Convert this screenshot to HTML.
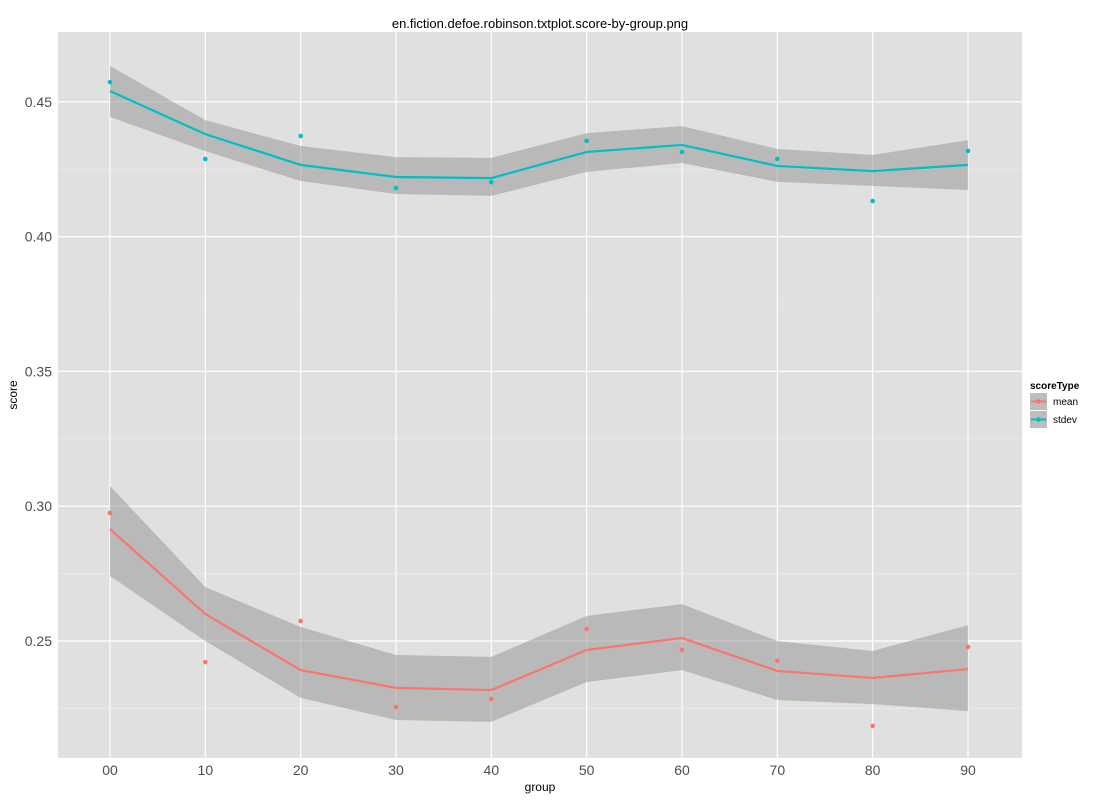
<!DOCTYPE html>
<html><head><meta charset="utf-8"><style>
body{margin:0;background:#fff;font-family:"Liberation Sans",sans-serif}
svg text{font-family:"Liberation Sans",sans-serif}
</style></head><body>
<svg id="c" width="1100" height="800"></svg>
<script>
const categories=["00","10","20","30","40","50","60","70","80","90"];
const stdevPoints=[0.4573,0.4288,0.4373,0.4180,0.4202,0.4355,0.4314,0.4288,0.4132,0.4318];
const stdevLine=[0.4540,0.4380,0.4266,0.4221,0.4217,0.4314,0.4340,0.4262,0.4243,0.4266];
const stdevUpper=[0.4633,0.4432,0.4336,0.4295,0.4292,0.4384,0.4410,0.4325,0.4303,0.4358];
const stdevLower=[0.4444,0.4317,0.4206,0.4158,0.4151,0.4240,0.4273,0.4203,0.4188,0.4173];
const meanPoints=[0.2975,0.2422,0.2574,0.2255,0.2285,0.2545,0.2467,0.2426,0.2185,0.2478];
const meanLine=[0.2915,0.2600,0.2392,0.2326,0.2318,0.2467,0.2511,0.2389,0.2363,0.2396];
const meanUpper=[0.3075,0.2700,0.2552,0.2448,0.2441,0.2593,0.2637,0.2500,0.2463,0.2559];
const meanLower=[0.2741,0.2500,0.2289,0.2207,0.2200,0.2348,0.2392,0.2281,0.2266,0.2240];
const yTicks=[0.25,0.30,0.35,0.40,0.45];
const yMinor=[0.225,0.275,0.325,0.375,0.425];

const NS="http://www.w3.org/2000/svg";
const svg=document.getElementById('c');
const L=58,R=1022,T=32,B=758;
const x=i=>110+i*(968-110)/9;
const y=v=>641-(v-0.25)*2696;
function mk(t,a,p){const e=document.createElementNS(NS,t);for(const k in a)e.setAttribute(k,a[k]);(p||svg).appendChild(e);return e;}

const title=mk('text',{x:540,y:28,'text-anchor':'middle','font-size':13,fill:'#000'});


title.textContent='en.fiction.defoe.robinson.txtplot.score-by-group.png';

const panel=mk('rect',{x:L,y:T,width:R-L,height:B-T,fill:'#e0e0e0'});


yMinor.forEach(v=>{const g=mk('line',{x1:L,x2:R,y1:y(v),y2:y(v),stroke:'#ececec','stroke-width':0.7});

});
yTicks.forEach(v=>{const g=mk('line',{x1:L,x2:R,y1:y(v),y2:y(v),stroke:'#fff','stroke-width':1.2});


const t=mk('text',{x:52,y:y(v)+5,'text-anchor':'end','font-size':14,fill:'#4d4d4d'});


t.textContent=v.toFixed(2);});
categories.forEach((c,i)=>{const g=mk('line',{x1:x(i),x2:x(i),y1:T,y2:B,stroke:'#fff','stroke-width':1.2});


const t=mk('text',{x:x(i),y:775,'text-anchor':'middle','font-size':14,fill:'#4d4d4d'});


t.textContent=c;});

function series(name,pts,line,up,lo,col){
  let d=up.map((v,i)=>(i?'L':'M')+x(i)+','+y(v)).join('')+lo.map((v,i)=>i).reverse().map(i=>'L'+x(i)+','+y(lo[i])).join('')+'Z';
  const band=mk('path',{d:d,fill:'#999','fill-opacity':0.55});
  
  
  const ln=mk('polyline',{points:line.map((v,i)=>x(i)+','+y(v)).join(' '),fill:'none',stroke:col,'stroke-width':2.2});
  
  
  pts.forEach((v,i)=>{const p=mk('circle',{cx:x(i),cy:y(v),r:2.3,fill:col});
  
  });
}
series('mean',meanPoints,meanLine,meanUpper,meanLower,'#f8766d');
series('stdev',stdevPoints,stdevLine,stdevUpper,stdevLower,'#00bfc4');

const xt=mk('text',{x:540,y:791,'text-anchor':'middle','font-size':12,fill:'#000'});


xt.textContent='group';
const yt=mk('text',{x:17,y:395,'text-anchor':'middle','font-size':12,fill:'#000',transform:'rotate(-90 17 395)'});


yt.textContent='score';

const lg=mk('g',{});


const lt=mk('text',{x:1030,y:389,'font-size':10,'font-weight':'bold',fill:'#000'},lg);


lt.textContent='scoreType';
[['mean','#f8766d',393],['stdev','#00bfc4',411]].forEach(([n,col,yy])=>{
  const g=mk('g',{},lg);
  
  
  mk('rect',{x:1030,y:yy,width:17,height:17,fill:'#bdbdbd'},g);
  mk('line',{x1:1031,x2:1046,y1:yy+8.5,y2:yy+8.5,stroke:col,'stroke-width':2},g);
  mk('circle',{cx:1038.5,cy:yy+8.5,r:2.3,fill:col},g);
  const t=mk('text',{x:1053,y:yy+12,'font-size':10,fill:'#000'},g);
  t.textContent=n;
});
</script>
</body></html>
